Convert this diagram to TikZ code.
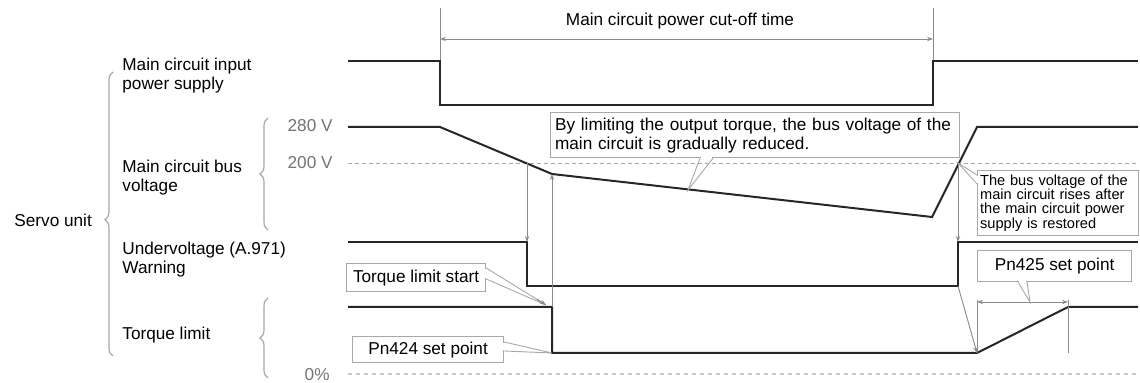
\documentclass[tikz,border=0pt]{standalone}
\usepackage{fontspec}
\setmainfont{Liberation Sans}
\usetikzlibrary{positioning,arrows.meta,decorations.pathreplacing,calc}
\definecolor{siggray}{HTML}{262626}
\definecolor{guidegray}{HTML}{8A8A8A}
\definecolor{boxgray}{HTML}{A8A8A8}
\newcommand{\labsize}{\fontsize{8.6}{9.5}\selectfont}
\newcommand{\notesize}{\fontsize{7.3}{7.1}\selectfont}
\tikzset{
  sigline/.style={draw=siggray, line width=1pt},
  guide/.style={draw=guidegray, line width=0.45pt},
  guidearrow/.style={guide, -{Stealth[length=3pt, width=2.2pt]}},
  dimarrow/.style={guide, {Stealth[length=3pt, width=2.2pt]}-{Stealth[length=3pt, width=2.2pt]}},
  reflevel/.style={draw=black!35, line width=0.45pt, dash pattern=on 2pt off 1.5pt},
  zerolevel/.style={draw=black!22, line width=0.9pt, dash pattern=on 2pt off 2pt},
  rowlab/.style={anchor=west, align=left, inner sep=0pt},
  levlab/.style={anchor=east, inner sep=0pt, text=black!55},
  callbox/.style={draw=boxgray, fill=white, line width=0.6pt, inner sep=0pt},
  callptr/.style={draw=boxgray, line width=0.45pt},
  grpbrace/.style={draw=boxgray, line width=0.6pt, decorate,
    decoration={brace, amplitude=4pt}},
}

\begin{document}
\begin{tikzpicture}[x=0.5pt, y=-0.5pt, font=\labsize]
\useasboundingbox (0,0) rectangle (1140,383);
% --- row labels ---
\node[rowlab] (pwrlab) at (122,76) {Main circuit input\\power supply};
\node[rowlab] (buslab) at (122,177.5) {Main circuit bus\\voltage};
\node[rowlab] (uvlab) at (122,259.5) {Undervoltage (A.971)\\Warning};
\node[rowlab] (tqlab) at (122,335) {Torque limit};
\node[rowlab] (servolab) at (14,220) {Servo unit};
\node[levlab] (v280) at (333,126) {280 V};
\node[levlab] (v200) at (333,163) {200 V};
\node[levlab] (zero) at (330,375) {0\%};
% --- braces ---
\draw[grpbrace, decoration={aspect=0.48}] (113,356) -- (113,72);
\draw[grpbrace] (268,230) -- (268,118);
\draw[grpbrace] (268,378) -- (268,298);
% --- reference levels ---
\draw[reflevel] (348,163) -- (1138,163);
\draw[zerolevel] (348,374) -- (1138,374);
% --- cut-off time ---
\coordinate (offtop) at (440,8);
\coordinate (offpt) at (440,61);
\coordinate (ontop) at (933,8);
\coordinate (onpt) at (933,61);
\draw[guide] (offtop) -- (offpt);
\draw[guide] (ontop) -- (onpt);
\draw[dimarrow] (440,39) -- (933,39);
\node (cutlab) at (680,21) {Main circuit power cut-off time};
% --- signals ---
\draw[sigline] (348,61) -- (offpt) -- (440,105) -- (933,105) -- (onpt) -- (1138,61);
\draw[sigline] (348,127) -- (440,127) -- (552,174) -- (932,217) -- (977,127) -- (1138,127);
\draw[sigline] (348,242) -- (527,242) -- (527,286) -- (958,286) -- (958,242) -- (1138,242);
\draw[sigline] (348,307) -- (552,307) -- (552,353) -- (977,353) -- (1068,307) -- (1138,307);
% --- timing guides ---
\coordinate (busdown) at (527,163);
\coordinate (uvoff) at (527,242);
\coordinate (tlon) at (552,307);
\coordinate (busknee) at (552,174);
\coordinate (busup) at (958,163);
\coordinate (uvon) at (958,242);
\coordinate (uvonlow) at (958,286);
\coordinate (tlramp) at (977,353);
\draw[guidearrow] (busdown) -- (uvoff);
\draw[guidearrow] (tlon) -- (busknee);
\draw[guidearrow] (busup) -- (uvon);
\draw[guidearrow] (uvonlow) -- (tlramp);
\draw[guide] (977,300) -- (977,353);
\draw[guide] (1068,300) -- (1068,353);
\draw[dimarrow] (977,302) -- (1068,302);
% --- callouts ---
\node[callbox, anchor=north west, minimum width=204.5pt, minimum height=22.5pt,
  text width=200pt, align=left] (bybox) at (550,112)
  {By limiting the output torque, the bus voltage of the\\main circuit is gradually reduced.};
\node[callbox, anchor=north west, minimum width=80.5pt, minimum height=32.5pt,
  text width=78pt, align=left, font=\notesize] (busbox) at (977,170)
  {\makebox[78pt][s]{The bus voltage of the}\\\makebox[78pt][s]{main circuit rises after}\\
   \makebox[78pt][s]{the main circuit power}\\supply is restored};
\node[callbox, anchor=north west, minimum width=69.5pt, minimum height=14pt] (tlsbox) at (346,263) {Torque limit start};
\node[callbox, anchor=north west, minimum width=75.5pt, minimum height=13pt] (pn424box) at (352,336) {Pn424 set point};
\node[callbox, anchor=north west, minimum width=77pt, minimum height=15.5pt] (pn425box) at (977,250) {Pn425 set point};
% --- callout pointers ---
\coordinate (bytip) at (688,190);
\draw[callptr] ($(bybox.south west)+(150,0)$) -- (bytip) -- ($(bybox.south west)+(163,0)$);
\draw[white, line width=0.8pt] ($(bybox.south west)+(151,0)$) -- ($(bybox.south west)+(162,0)$);
\draw[callptr] ($(busbox.north west)+(0,5)$) -- (busup) -- ($(busbox.north west)+(0,14)$);
\draw[white, line width=0.8pt] ($(busbox.north west)+(0,6)$) -- ($(busbox.north west)+(0,13)$);
\coordinate (tlstip) at (546,305);
\draw[callptr] ($(tlsbox.north east)+(0,5)$) -- (tlstip) -- ($(tlsbox.north east)+(0,16)$);
\draw[white, line width=0.8pt] ($(tlsbox.north east)+(0,6)$) -- ($(tlsbox.north east)+(0,15)$);
\draw[guidearrow] ($(tlstip)+(-9,-6)$) -- (tlstip);
\coordinate (pn424tip) at (552,353);
\draw[callptr] ($(pn424box.north east)+(0,6)$) -- (pn424tip) -- ($(pn424box.north east)+(0,15)$);
\draw[white, line width=0.8pt] ($(pn424box.north east)+(0,7)$) -- ($(pn424box.north east)+(0,14)$);
\coordinate (pn425tip) at (1030,302);
\draw[callptr] ($(pn425box.south west)+(41,0)$) -- (pn425tip) -- ($(pn425box.south west)+(50,0)$);
\draw[white, line width=0.8pt] ($(pn425box.south west)+(42,0)$) -- ($(pn425box.south west)+(49,0)$);
\end{tikzpicture}
\end{document}
